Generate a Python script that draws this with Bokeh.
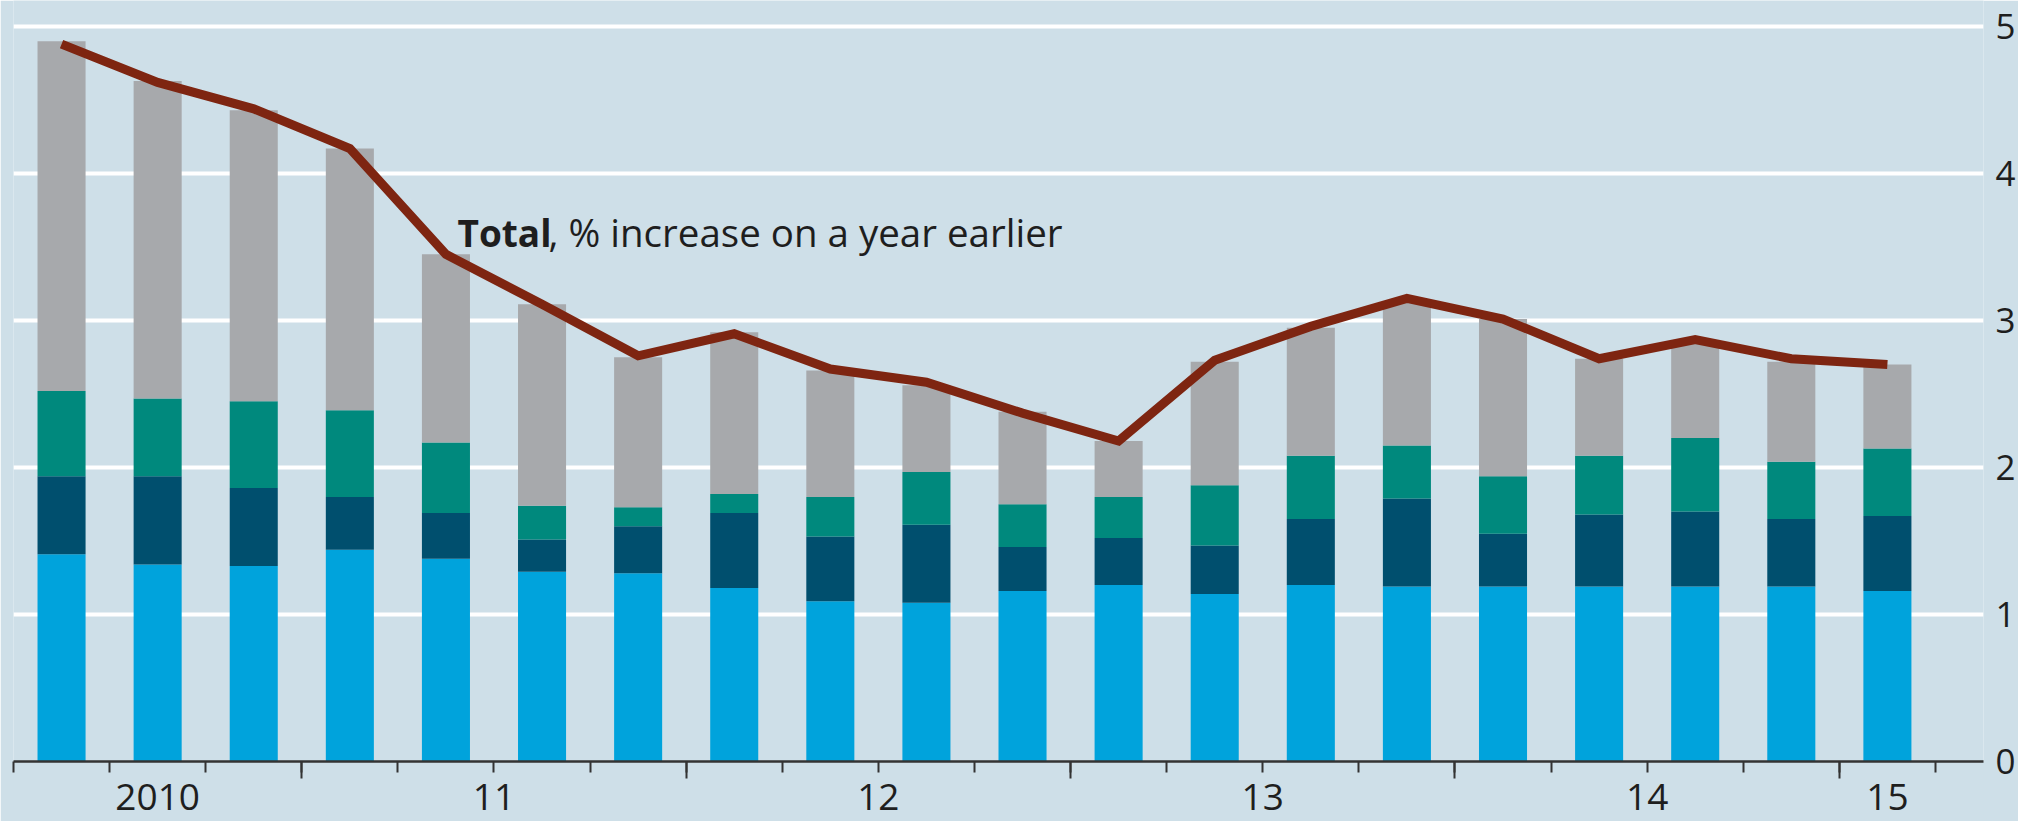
from bokeh.plotting import figure
from bokeh.models import FixedTicker, LinearAxis, ColumnDataSource, Range1d, CustomLabelingPolicy
from bokeh.core.properties import value
from bokeh.embed import file_html
from bokeh.resources import INLINE

# ---- data ----
quarters = ["2010Q2", "2010Q3", "2010Q4",
            "2011Q1", "2011Q2", "2011Q3", "2011Q4",
            "2012Q1", "2012Q2", "2012Q3", "2012Q4",
            "2013Q1", "2013Q2", "2013Q3", "2013Q4",
            "2014Q1", "2014Q2", "2014Q3", "2014Q4",
            "2015Q1"]
part_light_blue = [1.41, 1.34, 1.33, 1.44, 1.38, 1.29, 1.28, 1.18, 1.09, 1.08,
                   1.16, 1.20, 1.14, 1.20, 1.19, 1.19, 1.19, 1.19, 1.19, 1.16]
part_navy = [0.53, 0.60, 0.53, 0.36, 0.31, 0.22, 0.32, 0.51, 0.44, 0.53,
             0.30, 0.32, 0.33, 0.45, 0.60, 0.36, 0.49, 0.51, 0.46, 0.51]
part_teal = [0.58, 0.53, 0.59, 0.59, 0.48, 0.23, 0.13, 0.13, 0.27, 0.36,
             0.29, 0.28, 0.41, 0.43, 0.36, 0.39, 0.40, 0.50, 0.39, 0.46]
part_grey = [2.38, 2.16, 1.98, 1.78, 1.28, 1.37, 1.02, 1.10, 0.86, 0.59,
             0.63, 0.38, 0.84, 0.87, 0.98, 1.07, 0.66, 0.65, 0.68, 0.57]
total = [4.88, 4.62, 4.44, 4.17, 3.45, 3.11, 2.76, 2.91, 2.67, 2.58,
         2.37, 2.18, 2.73, 2.96, 3.15, 3.01, 2.74, 2.87, 2.74, 2.70]
y_ticks = [0, 1, 2, 3, 4, 5]
year_labels = ["2010", "11", "12", "13", "14", "15"]
annotation_bold = "Total"
annotation_rest = ", % increase on a year earlier"

# ---- derived positions from the categories ----
idx = list(range(len(quarters)))
years = [q[:4] for q in quarters]
uniq_years = sorted(set(years))
year_centers = [sum(i for i in idx if years[i] == y) / years.count(y) for y in uniq_years]
quarter_bounds = [i - 0.5 for i in range(len(quarters) + 1)]
year_bounds = [i - 0.5 for i in idx if quarters[i].endswith("Q1")]

BG = "#cedfe8"
COLORS = ["#00a3dc", "#004f6e", "#00897d", "#a7a9ac"]
LINE = "#7e2511"
TEXT = "#1e1e1e"
AXIS = "#333333"
FONT = "Open Sans"

src = ColumnDataSource(dict(x=idx, a=part_light_blue, b=part_navy, c=part_teal,
                            d=part_grey, total=total))

p = figure(width=2018, height=821, output_backend="svg", toolbar_location=None,
           x_range=Range1d(-0.5, 20.0), y_range=Range1d(0, 5.177),
           y_axis_location="right", background_fill_color=BG, border_fill_color=BG,
           min_border_left=13, min_border_right=33, min_border_top=0, min_border_bottom=60)
p.outline_line_color = None

p.vbar_stack(["a", "b", "c", "d"], x="x", width=0.5, source=src,
             fill_color=COLORS, line_color=None)
p.line("x", "total", source=src, line_color=LINE, line_width=9, line_join="miter")

p.text(x=[4.12], y=[3.60], text=[annotation_bold], text_font=value(FONT),
       text_font_style="bold", text_font_size="37px", text_color=TEXT,
       text_align="left", text_baseline="alphabetic")
p.text(x=[4.12], y=[3.60], text=[annotation_rest], text_font=value(FONT),
       text_font_size="38.5px", text_color=TEXT, x_offset=91,
       text_align="left", text_baseline="alphabetic")

# grid
p.xgrid.visible = False
p.ygrid.grid_line_color = "white"
p.ygrid.grid_line_width = 4
p.ygrid.ticker = FixedTicker(ticks=y_ticks[1:])

# right y axis
ya = p.yaxis[0]
ya.ticker = FixedTicker(ticks=y_ticks)
ya.axis_line_color = None
ya.major_tick_line_color = None
ya.minor_tick_line_color = None
ya.major_tick_out = 0
ya.major_label_standoff = 12
ya.major_label_text_font = FONT
ya.major_label_text_font_size = "35px"
ya.major_label_text_color = TEXT

# x axis carrying the tick marks only
xa = p.xaxis[0]
xa.ticker = FixedTicker(ticks=year_bounds, minor_ticks=quarter_bounds)
xa.axis_line_color = AXIS
xa.axis_line_width = 2.5
xa.major_tick_line_color = AXIS
xa.major_tick_line_width = 2
xa.minor_tick_line_color = AXIS
xa.minor_tick_line_width = 2
xa.major_tick_in = 0
xa.major_tick_out = 17
xa.minor_tick_in = 0
xa.minor_tick_out = 11
xa.major_label_text_font_size = "1px"
xa.major_label_standoff = 0
xa.major_label_policy = CustomLabelingPolicy(code="return []")

# x axis with year labels
xb = LinearAxis(ticker=FixedTicker(ticks=year_centers),
                major_label_overrides={c: l for c, l in zip(year_centers, year_labels)})
xb.axis_line_color = None
xb.major_tick_line_color = None
xb.minor_tick_line_color = None
xb.major_tick_out = 0
xb.minor_tick_out = 0
xb.major_label_standoff = 1
xb.major_label_text_font = FONT
xb.major_label_text_font_size = "37px"
xb.major_label_text_color = TEXT
p.add_layout(xb, "below")

open("out.html", "w").write(file_html(p, INLINE))
